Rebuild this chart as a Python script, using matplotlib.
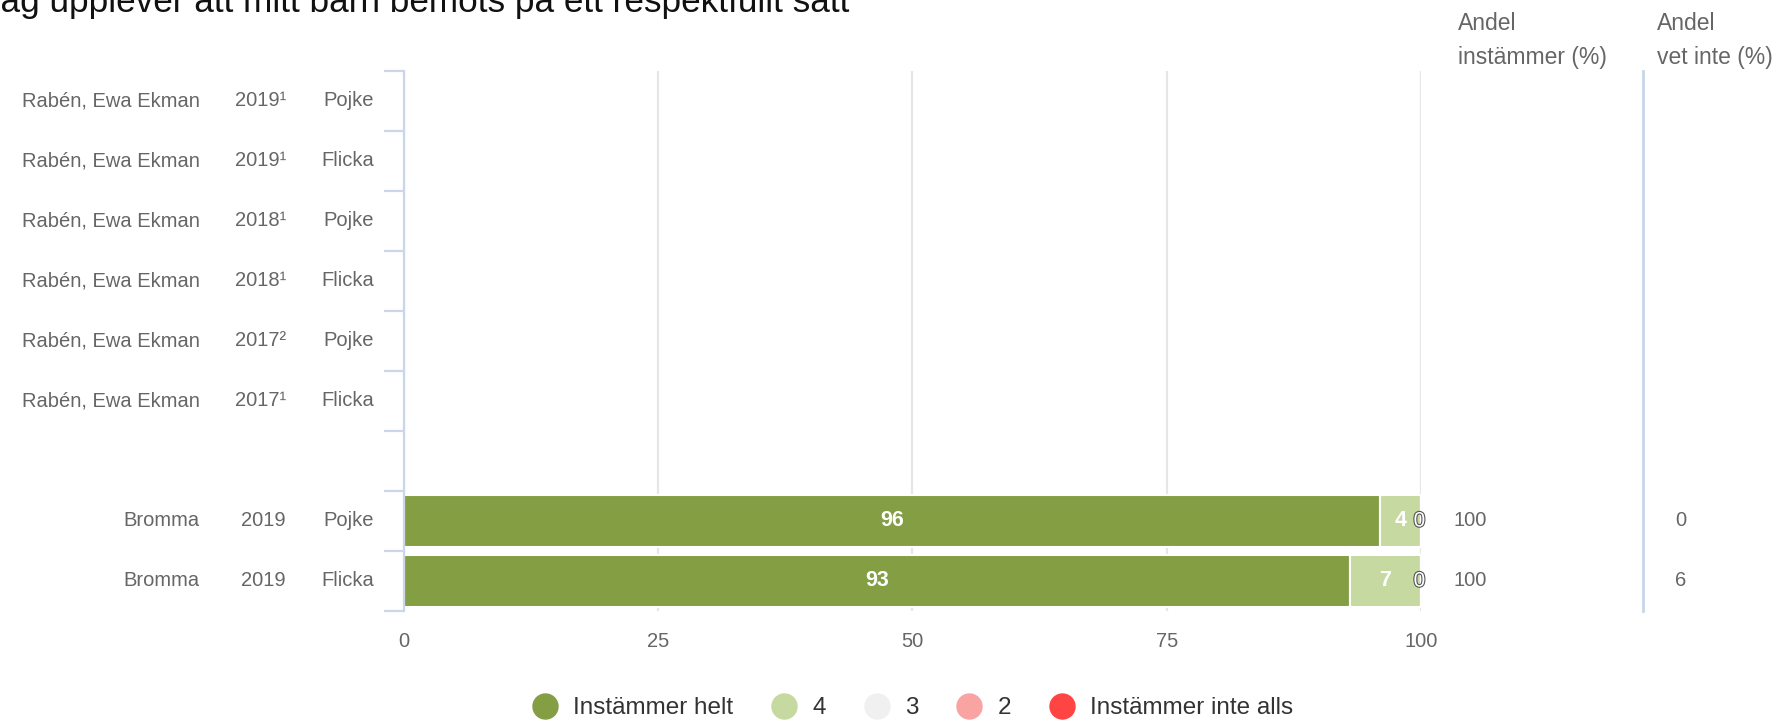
import matplotlib.pyplot as plt
import matplotlib.patheffects as pe
from matplotlib.lines import Line2D
import numpy as np

plt.rcParams['font.family'] = ['Liberation Sans', 'DejaVu Sans']

title = "Jag upplever att mitt barn bemöts på ett respektfullt sätt"
units = ["Rabén, Ewa Ekman"] * 6 + ["", "Bromma", "Bromma"]
years = ["2019¹", "2019¹", "2018¹", "2018¹", "2017²", "2017¹", "", "2019", "2019"]
groups = ["Pojke", "Flicka", "Pojke", "Flicka", "Pojke", "Flicka", "", "Pojke", "Flicka"]

# only the Bromma rows have data (row index 7 and 8)
bar_rows = [7, 8]
helt = [96, 93]
fyra = [4, 7]
tre = [0, 0]
tva = [0, 0]
inte_alls = [0, 0]
andel_instammer = [100, 100]
andel_vet_inte = [0, 6]

series = [("Instämmer helt", helt, "#839e43"),
          ("4", fyra, "#c5d9a0"),
          ("3", tre, "#f0f0f0"),
          ("2", tva, "#f9a3a3"),
          ("Instämmer inte alls", inte_alls, "#ff4444")]

fig = plt.figure(figsize=(17.83, 7.20), dpi=100)
ax = fig.add_axes([404 / 1783, 1 - 611 / 720, 1017 / 1783, 540 / 720])

left = np.zeros(len(bar_rows))
for name, vals, col in series:
    vals = np.array(vals, dtype=float)
    ax.barh(bar_rows, vals, left=left, height=0.86, color=col,
            edgecolor="white", linewidth=1.5, zorder=3)
    for r, v, l in zip(bar_rows, vals, left):
        if name == "3":
            ax.text(l + v / 2 - 0.15, r, f"{v:.0f}", ha="center", va="center",
                    fontsize=15, color="white", zorder=5,
                    path_effects=[pe.withStroke(linewidth=1.6, foreground="#555555")])
        elif v > 0:
            ax.text(l + v / 2, r, f"{v:.0f}", ha="center", va="center",
                    fontsize=15.5, color="white", fontweight="bold", zorder=5)
    left = left + vals

ax.set_xlim(0, 100)
ax.set_ylim(8.5, -0.5)
ax.set_xticks([0, 25, 50, 75, 100])
ax.tick_params(axis="x", length=0, pad=15, labelsize=14.5, labelcolor="#666666")
ax.set_yticks(np.arange(-0.5, 9, 1))
ax.set_yticklabels([])
ax.tick_params(axis="y", length=14.5, width=1.6, color="#ccd6eb")
ax.xaxis.grid(True, color="#e6e6e6", linewidth=1.6, zorder=0)
ax.set_axisbelow(True)
for s in ["top", "right", "bottom"]:
    ax.spines[s].set_visible(False)
ax.spines["left"].set_color("#ccd6eb")
ax.spines["left"].set_linewidth(1.6)
ax.spines["left"].set_zorder(4)

tr = ax.get_yaxis_transform()
for i in range(len(units)):
    ax.text(-0.2006, i, units[i], transform=tr, ha="right", va="center",
            fontsize=14.5, color="#666666")
    ax.text(-0.116, i, years[i], transform=tr, ha="right", va="center",
            fontsize=14.5, color="#666666")
    ax.text(-0.0295, i, groups[i], transform=tr, ha="right", va="center",
            fontsize=14.5, color="#666666")

for r, a, v in zip(bar_rows, andel_instammer, andel_vet_inte):
    ax.text(1.0315, r, str(a), transform=tr, ha="left", va="center",
            fontsize=14.5, color="#666666")
    ax.text(1.2497, r, str(v), transform=tr, ha="left", va="center",
            fontsize=14.5, color="#666666")

ax.plot([1.2183, 1.2183], [0, 1], transform=ax.transAxes, clip_on=False,
        color="#c6d6ea", linewidth=2)

fig.text(1458 / 1783, 1 - 12 / 720, "Andel\ninstämmer (%)", ha="left", va="top",
         fontsize=16.5, color="#666666", linespacing=1.6)
fig.text(1657 / 1783, 1 - 12 / 720, "Andel\nvet inte (%)", ha="left", va="top",
         fontsize=16.5, color="#666666", linespacing=1.6)

fig.text(-17 / 1783, 1 - 12 / 720, title, ha="left", va="baseline",
         fontsize=25.3, color="#111111")

handles = [Line2D([], [], linestyle="none", marker="o", markersize=18,
                  markerfacecolor=col, markeredgecolor=col) for _, _, col in series]
fig.legend(handles, [n for n, _, _ in series], loc="center",
           bbox_to_anchor=(0.512, 1 - 708 / 720), ncol=5, frameon=False,
           fontsize=17.5, labelcolor="#333333", handlelength=1.0,
           handletextpad=0.66, columnspacing=1.6)

fig.savefig("out.png", dpi=100)
